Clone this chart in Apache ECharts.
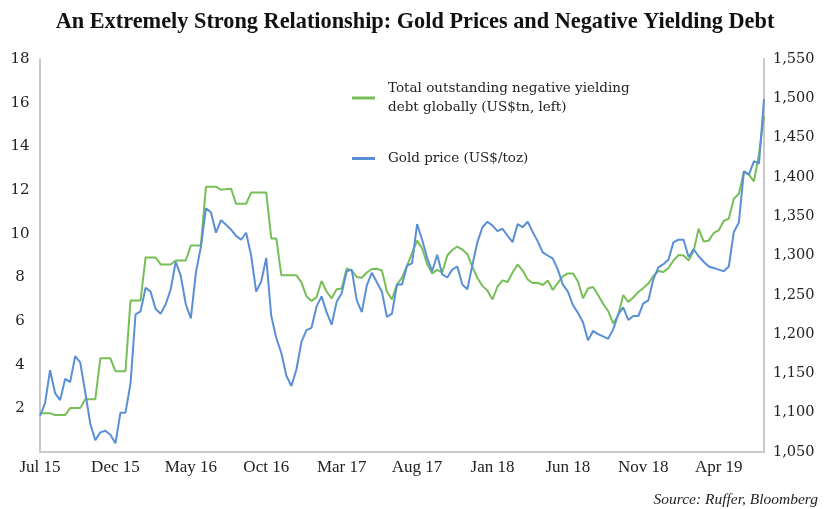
<!DOCTYPE html>
<html>
<head>
<meta charset="utf-8">
<script src="https://cdn.jsdelivr.net/npm/echarts@6/dist/echarts.min.js"></script>
<style>
  html, body { margin: 0; padding: 0; background: #fff; }
  #chart { width: 830px; height: 509px; }
</style>
</head>
<body>
<div id="chart"></div>
<script>
// three points per month, Jul 2015 - Jul/Aug 2019
const tickLabels = ['Jul 15', 'Dec 15', 'May 16', 'Oct 16', 'Mar 17', 'Aug 17', 'Jan 18', 'Jun 18', 'Nov 18', 'Apr 19']

// negative yielding debt, US$tn (left axis)
const debtValues = [
  1.78, 1.78, 1.78, 1.69, 1.69, 1.69, 2.01, 2.01, 2.01, 2.42, 2.42, 2.42,
  4.29, 4.29, 4.29, 3.70, 3.70, 3.70, 6.94, 6.94, 6.94, 8.91, 8.91, 8.91,
  8.59, 8.59, 8.59, 8.77, 8.77, 8.77, 9.46, 9.46, 9.46, 12.15, 12.15, 12.15,
  12.01, 12.04, 12.06, 11.37, 11.37, 11.37, 11.88, 11.88, 11.88, 11.88, 9.78, 9.78,
  8.09, 8.09, 8.09, 8.09, 7.77, 7.13, 6.92, 7.08, 7.83, 7.35, 7.04, 7.45,
  7.49, 8.41, 8.31, 8.02, 7.98, 8.22, 8.38, 8.39, 8.31, 7.35, 6.99, 7.67,
  7.99, 8.54, 9.11, 9.68, 9.32, 8.61, 8.18, 8.34, 8.22, 9.00, 9.25, 9.41,
  9.27, 9.06, 8.48, 7.97, 7.61, 7.39, 6.99, 7.58, 7.86, 7.79, 8.22, 8.59,
  8.31, 7.90, 7.74, 7.75, 7.65, 7.86, 7.42, 7.75, 8.05, 8.18, 8.18, 7.81,
  7.04, 7.49, 7.56, 7.19, 6.79, 6.46, 5.89, 6.26, 7.19, 6.87, 7.08, 7.33,
  7.51, 7.72, 8.06, 8.29, 8.24, 8.43, 8.77, 9.02, 9.00, 8.77, 9.21, 10.23,
  9.64, 9.68, 10.03, 10.16, 10.58, 10.69, 11.60, 11.83, 12.84, 12.70, 12.40, 13.63, 15.40
]

// gold price, US$/toz (right axis)
const goldValues = [
  1096, 1112, 1154, 1125, 1116, 1143, 1139, 1172, 1164, 1126, 1086, 1065,
  1075, 1077, 1072, 1061, 1100, 1100, 1137, 1225, 1229, 1259, 1254, 1232,
  1226, 1238, 1257, 1292, 1274, 1238, 1220, 1278, 1311, 1360, 1355, 1329,
  1345, 1339, 1333, 1325, 1320, 1329, 1300, 1254, 1267, 1297, 1223, 1195,
  1176, 1147, 1134, 1155, 1190, 1205, 1208, 1235, 1248, 1228, 1212, 1241,
  1252, 1280, 1282, 1243, 1228, 1262, 1278, 1266, 1254, 1222, 1226, 1263,
  1263, 1287, 1290, 1340, 1320, 1297, 1280, 1301, 1276, 1272, 1282, 1286,
  1263, 1257, 1288, 1317, 1336, 1343, 1338, 1331, 1334, 1325, 1317, 1340,
  1336, 1343, 1330, 1318, 1304, 1300, 1296, 1282, 1263, 1254, 1237, 1227,
  1215, 1192, 1204, 1200, 1197, 1194, 1206, 1225, 1234, 1218, 1223, 1223,
  1239, 1243, 1270, 1285, 1289, 1295, 1317, 1320, 1320, 1298, 1308, 1299,
  1292, 1286, 1284, 1282, 1280, 1286, 1330, 1342, 1407, 1403, 1420, 1417, 1499
]

const categories = debtValues.map((_, i) => 'p' + i)

const DEBT_NAME = 'Total outstanding negative yielding\ndebt globally (US$tn, left)'
const GOLD_NAME = 'Gold price (US$/toz)'
const GREEN = '#77be57'
const BLUE = '#5a8fd6'
const AXIS_GREY = '#c9c9c9'

const chart = echarts.init(document.getElementById('chart'))

chart.setOption({
  animation: false,
  title: [
    {
      text: 'An Extremely Strong Relationship: Gold Prices and Negative Yielding Debt',
      left: 'center',
      top: 6,
      textStyle: {
        fontFamily: 'Liberation Serif',
        fontWeight: 'bold',
        fontSize: 22.3,
        color: '#111',
      },
    },
    {
      text: 'Source: Ruffer, Bloomberg',
      right: 7,
      top: 487,
      textStyle: {
        fontFamily: 'Liberation Serif',
        fontStyle: 'italic',
        fontWeight: 'normal',
        fontSize: 15.5,
        color: '#222',
      },
    },
  ],
  legend: {
    orient: 'vertical',
    left: 352,
    top: 79,
    padding: 0,
    itemWidth: 23,
    itemHeight: 3,
    itemGap: 32,
    textStyle: {
      fontFamily: 'DejaVu Serif',
      fontSize: 13.5,
      lineHeight: 19,
      color: '#222',
      padding: [0, 0, 0, 8],
    },
    data: [
      { name: DEBT_NAME, icon: 'rect' },
      { name: GOLD_NAME, icon: 'rect' },
    ],
  },
  grid: {
    left: 40,
    right: 66,
    top: 59,
    bottom: 57,
    outerBoundsMode: 'none',
  },
  xAxis: {
    type: 'category',
    data: categories,
    boundaryGap: false,
    axisLine: { lineStyle: { color: AXIS_GREY, width: 2 } },
    axisTick: { show: false },
    axisLabel: {
      interval: 14,
      margin: 7,
      fontFamily: 'Liberation Serif',
      fontSize: 17,
      color: '#222',
      formatter: (v, idx) => tickLabels[Math.round(idx / 15)] || '',
    },
    splitLine: { show: false },
  },
  yAxis: [
    {
      type: 'value',
      min: 0,
      max: 18,
      interval: 2,
      axisLine: { show: true, lineStyle: { color: AXIS_GREY, width: 2 } },
      axisTick: { show: false },
      splitLine: { show: false },
      axisLabel: {
        showMinLabel: false,
        align: 'center',
        margin: 20,
        fontFamily: 'DejaVu Serif',
        fontSize: 15,
        color: '#222',
      },
    },
    {
      type: 'value',
      position: 'right',
      min: 1050,
      max: 1550,
      interval: 50,
      axisLine: { show: true, lineStyle: { color: AXIS_GREY, width: 2 } },
      axisTick: { show: false },
      splitLine: { show: false },
      axisLabel: {
        margin: 9,
        fontFamily: 'DejaVu Serif',
        fontSize: 14.5,
        color: '#222',
        formatter: v => String(v).replace(/\B(?=(\d{3})+(?!\d))/g, ','),
      },
    },
  ],
  series: [
    {
      name: DEBT_NAME,
      type: 'line',
      yAxisIndex: 0,
      data: debtValues,
      showSymbol: false,
      lineStyle: { color: GREEN, width: 2 },
      itemStyle: { color: GREEN },
    },
    {
      name: GOLD_NAME,
      type: 'line',
      yAxisIndex: 1,
      data: goldValues,
      showSymbol: false,
      lineStyle: { color: BLUE, width: 2 },
      itemStyle: { color: BLUE },
    },
  ],
})
</script>
</body>
</html>
